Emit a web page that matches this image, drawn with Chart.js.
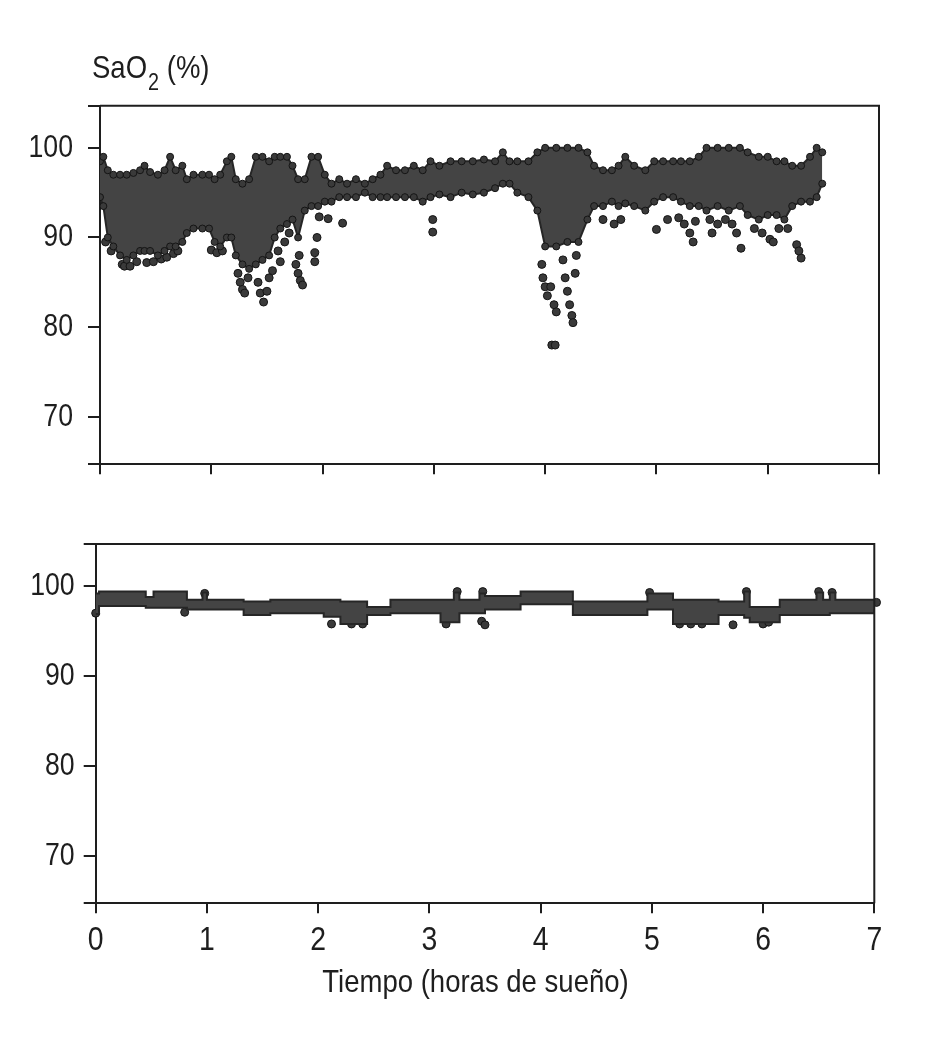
<!DOCTYPE html>
<html>
<head>
<meta charset="utf-8">
<script src="https://cdn.jsdelivr.net/npm/chart.js@4/dist/chart.umd.min.js"></script>
<style>
  body { margin: 0; background: #fff; }
  #wrap { position: relative; width: 927px; height: 1052px; }
  canvas { position: absolute; left: 0; }
  #top-chart { top: 0; }
  #bottom-chart { top: 500px; }
</style>
</head>
<body>
<div id="wrap">
  <canvas id="top-chart" width="927" height="500"></canvas>
  <canvas id="bottom-chart" width="927" height="552"></canvas>
</div>
<script>
const topCanvas = document.querySelector("#top-chart");
const bottomCanvas = document.querySelector("#bottom-chart");

const FONT = '"Liberation Sans", Arial, sans-serif';
const NARROW = 0.86; // no narrow face installed, squeeze Liberation Sans instead
const INK = "#1e1e1e";

// tick labels
const hourTicks = [0, 1, 2, 3, 4, 5, 6, 7];
const satTicks = [70, 80, 90, 100];
const yMin = 64.7;
const yMax = 104.7;

// upper panel: dense band (upper / lower edge) + loose dots
const topTime = [0.00, 0.03, 0.07, 0.12, 0.18, 0.24, 0.30, 0.36, 0.40, 0.45, 0.52, 0.58, 0.63, 0.68, 0.74, 0.78, 0.84, 0.92, 0.98, 1.03,
  1.08, 1.14, 1.18, 1.22, 1.28, 1.34, 1.40, 1.46, 1.52, 1.57, 1.62, 1.68, 1.73, 1.78, 1.84, 1.90, 1.96, 2.02, 2.08, 2.15,
  2.22, 2.30, 2.38, 2.45, 2.52, 2.58, 2.66, 2.74, 2.82, 2.90, 2.97, 3.05, 3.15, 3.25, 3.35, 3.45, 3.55, 3.62, 3.68, 3.75,
  3.85, 3.93, 4.00, 4.10, 4.20, 4.30, 4.38, 4.44, 4.52, 4.60, 4.66, 4.72, 4.80, 4.90, 4.98, 5.06, 5.15, 5.22, 5.30, 5.38,
  5.45, 5.55, 5.65, 5.75, 5.82, 5.92, 6.00, 6.08, 6.15, 6.22, 6.30, 6.38, 6.44, 6.49];
const topHigh = [98.5, 99.0, 97.5, 97.0, 97.0, 97.0, 97.2, 97.5, 98.0, 97.3, 97.0, 97.5, 99.0, 97.5, 98.0, 96.5, 97.0, 97.0, 97.0, 96.5,
  97.0, 98.5, 99.0, 96.5, 96.0, 96.5, 99.0, 99.0, 98.5, 99.0, 99.0, 99.0, 98.0, 96.5, 96.5, 99.0, 99.0, 97.0, 96.0, 96.5,
  96.0, 96.5, 96.0, 96.5, 97.0, 98.0, 97.5, 97.5, 98.0, 97.5, 98.5, 98.0, 98.5, 98.5, 98.5, 98.7, 98.5, 99.5, 98.5, 98.5,
  98.5, 99.5, 100, 100, 100, 100, 99.5, 98.0, 97.5, 97.5, 98.0, 99.0, 98.0, 97.5, 98.5, 98.5, 98.5, 98.5, 98.5, 99.0,
  100, 100, 100, 100, 99.5, 99.0, 99.0, 98.5, 98.5, 98.0, 98.0, 99.0, 100, 99.5];
const topLow = [94.5, 93.5, 90.0, 89.0, 88.0, 87.5, 88.0, 88.5, 88.5, 88.5, 88.0, 88.5, 89.0, 89.0, 89.5, 90.5, 91.0, 91.0, 91.0, 89.5,
  89.0, 90.0, 90.0, 88.0, 87.0, 86.5, 87.0, 87.5, 88.0, 90.0, 91.0, 91.5, 92.0, 90.0, 93.0, 93.5, 93.5, 94.0, 94.0, 94.5,
  94.5, 94.5, 95.0, 94.5, 94.5, 94.5, 94.5, 94.5, 94.5, 94.0, 94.5, 94.8, 94.5, 95.0, 94.8, 95.0, 95.5, 96.0, 96.0, 95.0,
  94.5, 93.0, 89.0, 89.0, 89.5, 89.5, 92.0, 93.5, 93.5, 94.0, 93.5, 93.8, 93.5, 93.0, 94.0, 94.5, 94.5, 94.0, 93.5, 93.5,
  93.0, 93.5, 93.0, 93.5, 92.5, 92.0, 92.5, 92.5, 92.0, 93.5, 94.0, 94.0, 94.5, 96.0];
const topDotTime = [0.05, 0.10, 0.20, 0.22, 0.27, 0.33, 0.42, 0.48, 0.55, 0.60, 0.66, 0.70,
  1.00, 1.05, 1.10, 1.24, 1.26, 1.28, 1.30, 1.33, 1.42, 1.44, 1.47, 1.50, 1.52, 1.55,
  1.60, 1.62, 1.66, 1.70, 1.76, 1.78, 1.80, 1.82, 1.79, 1.93, 1.93, 1.95, 1.97,
  2.05, 2.18, 2.99, 2.99, 3.97, 3.98, 4.00, 4.02, 4.05, 4.08, 4.10, 4.06, 4.09,
  4.16, 4.18, 4.20, 4.22, 4.24, 4.25, 4.27, 4.28, 4.52, 4.62, 4.68,
  5.00, 5.10, 5.20, 5.25, 5.30, 5.35, 5.33, 5.48, 5.50, 5.55, 5.62, 5.68, 5.76, 5.72,
  5.88, 5.95, 6.02, 6.05, 6.10, 6.18, 6.26, 6.30, 6.28];
const topDotSat = [89.5, 88.5, 87.0, 86.8, 86.8, 87.3, 87.2, 87.3, 87.6, 87.8, 88.2, 88.5,
  88.6, 88.3, 88.5, 86.0, 85.0, 84.2, 83.8, 85.5, 85.0, 83.8, 82.8, 84.0, 85.5, 86.3,
  88.5, 87.3, 89.5, 90.5, 87.0, 86.0, 85.2, 84.7, 88.0, 87.3, 88.3, 90.0, 92.3,
  92.1, 91.6, 92.0, 90.6, 87.0, 85.5, 84.5, 83.5, 84.5, 82.5, 81.7, 78.0, 78.0,
  87.5, 85.5, 84.0, 82.5, 81.3, 80.5, 86.0, 88.0, 92.0, 91.5, 92.0,
  90.9, 92.0, 92.2, 91.5, 90.5, 91.8, 89.5, 92.0, 90.5, 91.5, 92.0, 91.5, 88.8, 90.5,
  91.0, 90.5, 89.8, 89.5, 91.0, 91.0, 89.2, 87.7, 88.5];

// lower panel: each value holds until the next time stamp
const botTime = [0.00, 0.03, 0.45, 0.52, 0.82, 0.96, 1.00, 1.33, 1.57, 2.05, 2.20, 2.44, 2.65, 3.10, 3.22, 3.27, 3.45, 3.50, 3.82, 4.29,
  4.96, 5.19, 5.60, 5.83, 5.88, 6.15, 6.48, 6.54, 6.60, 6.65, 7.00];
const botHigh = [99.2, 99.4, 98.8, 99.4, 98.5, 99.3, 98.5, 98.3, 98.5, 98.5, 98.3, 97.7, 98.5, 98.5, 99.3, 98.5, 99.2, 98.9, 99.4, 98.3,
  99.2, 98.5, 98.3, 99.4, 97.7, 98.5, 99.3, 98.5, 99.3, 98.5, 98.5];
const botLow = [96.9, 97.8, 97.6, 97.6, 97.4, 97.4, 97.4, 96.8, 97.0, 96.6, 95.8, 96.8, 97.0, 96.0, 96.0, 97.0, 97.0, 97.4, 98.0, 96.8,
  97.4, 95.8, 96.8, 96.5, 96.0, 96.8, 96.8, 96.8, 97.0, 97.0, 97.4];
const botDotTime = [0.00, 0.80, 0.98, 2.12, 2.30, 2.40, 3.15, 3.25, 3.47, 3.48, 3.50, 4.98, 5.25, 5.35, 5.45, 5.73, 5.85, 6.00, 6.05, 6.50, 6.62, 7.02];
const botDotSat = [97.0, 97.1, 99.2, 95.8, 95.8, 95.8, 95.8, 99.4, 96.1, 99.4, 95.7, 99.3, 95.8, 95.8, 95.8, 95.7, 99.4, 95.8, 96.0, 99.4, 99.3, 98.2];

const pts = (xs, ys) => xs.map((x, i) => ({ x: x, y: ys[i] }));

const edge = (data, fill, stepped, radius) => ({
  data: data,
  borderColor: "#262626",
  borderWidth: 2,
  backgroundColor: "#444444",
  pointRadius: radius,
  pointBackgroundColor: "#3a3a3a",
  pointBorderColor: "#151515",
  pointBorderWidth: 1,
  fill: fill,
  stepped: stepped,
  tension: 0,
});

const dots = (data) => ({
  data: data,
  showLine: false,
  pointRadius: 4,
  pointBackgroundColor: "#3a3a3a",
  pointBorderColor: "#151515",
  pointBorderWidth: 1,
  clip: false,
});

const squeezed = (ctx, text, x, y, size, align) => {
  ctx.save();
  ctx.font = size + "px " + FONT;
  ctx.textAlign = align;
  ctx.translate(x, y);
  ctx.scale(NARROW, 1);
  ctx.fillText(text, 0, 0);
  const w = ctx.measureText(text).width * NARROW;
  ctx.restore();
  return w;
};

// box, tick labels and titles
const framePlugin = {
  id: "frame",
  afterDraw(chart, args, opts) {
    const ctx = chart.ctx;
    const a = chart.chartArea;
    ctx.save();
    ctx.strokeStyle = INK;
    ctx.lineWidth = 2;
    ctx.beginPath();
    ctx.moveTo(a.left, a.top);
    ctx.lineTo(a.right, a.top);
    ctx.lineTo(a.right, a.bottom);
    ctx.stroke();
    ctx.fillStyle = INK;
    ctx.textBaseline = "alphabetic";

    const ys = chart.scales.y;
    satTicks.forEach((v) => {
      squeezed(ctx, String(v), a.left - opts.yGap, ys.getPixelForValue(v) + 9, 31, "right");
    });
    if (opts.xTicks) {
      const xs = chart.scales.x;
      hourTicks.forEach((v) => {
        squeezed(ctx, String(v), xs.getPixelForValue(v), a.bottom + 47, 33, "center");
      });
    }
    if (opts.ylabel) {
      let x = 92;
      x += squeezed(ctx, "SaO", x, 78, 32, "left");
      x += squeezed(ctx, "2", x + 1, 90, 23, "left") + 1;
      squeezed(ctx, " (%)", x, 78, 32, "left");
    }
    if (opts.xlabel) {
      squeezed(ctx, "Tiempo (horas de sueño)", 475.5, 492, 32, "center");
    }
    ctx.restore();
  },
};

const makeChart = (canvas, band, loose, cfg) => {
  return new Chart(canvas, {
    type: "line",
    data: {
      datasets: [
        edge(band.lo, false, cfg.stepped, cfg.edgeRadius),
        edge(band.hi, "-1", cfg.stepped, cfg.edgeRadius),
        dots(loose),
      ],
    },
    options: {
      responsive: false,
      animation: false,
      devicePixelRatio: 1,
      layout: { padding: cfg.padding },
      plugins: {
        legend: { display: false },
        tooltip: { enabled: false },
        frame: { ylabel: cfg.ylabel, xlabel: cfg.xlabel, xTicks: cfg.xTicks, yGap: cfg.yGap },
      },
      scales: {
        x: {
          type: "linear",
          min: 0,
          max: 7,
          afterBuildTicks: (s) => { s.ticks = hourTicks.map((v) => ({ value: v })); },
          afterFit: (s) => { s.height = cfg.xHeight; },
          border: { color: INK, width: 2 },
          grid: { drawOnChartArea: false, color: INK, lineWidth: 2, tickLength: 10 },
          ticks: { display: false },
        },
        y: {
          min: yMin,
          max: yMax,
          afterBuildTicks: (s) => { s.ticks = [yMin].concat(satTicks, [yMax]).map((v) => ({ value: v })); },
          afterFit: (s) => { s.width = cfg.yWidth; },
          border: { color: INK, width: 2 },
          grid: { drawOnChartArea: false, color: INK, lineWidth: 2, tickLength: 12 },
          ticks: { display: false },
        },
      },
    },
    plugins: [framePlugin],
  });
};

makeChart(topCanvas,
  { lo: pts(topTime, topLow), hi: pts(topTime, topHigh) },
  pts(topDotTime, topDotSat),
  { padding: { left: 0, right: 48, top: 105.7, bottom: 0 }, yWidth: 100, xHeight: 35.7, yGap: 27,
    xTicks: false, ylabel: true, xlabel: false, stepped: false, edgeRadius: 3.5 });

makeChart(bottomCanvas,
  { lo: pts(botTime, botLow), hi: pts(botTime, botHigh) },
  pts(botDotTime, botDotSat),
  { padding: { left: 0, right: 52.7, top: 44, bottom: 0 }, yWidth: 95.7, xHeight: 148.7, yGap: 21,
    xTicks: true, ylabel: false, xlabel: true, stepped: true, edgeRadius: 0 });
</script>
</body>
</html>
